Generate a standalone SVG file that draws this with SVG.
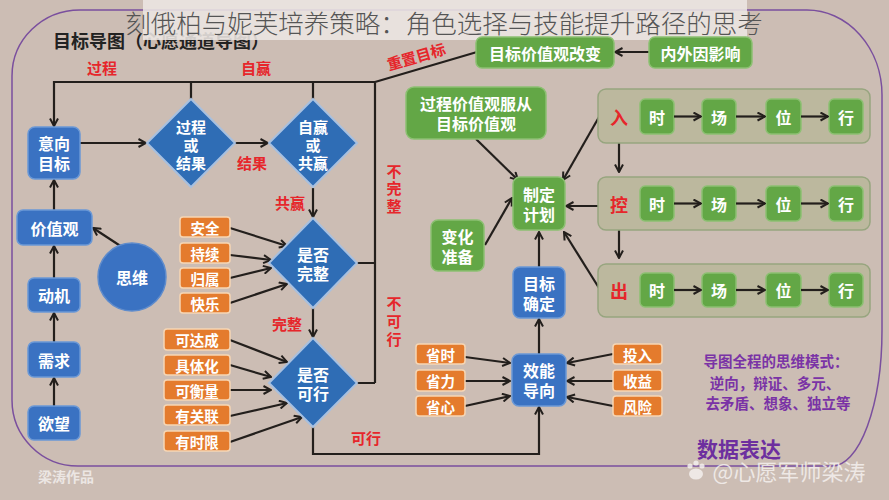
<svg xmlns="http://www.w3.org/2000/svg" width="889" height="500" viewBox="0 0 889 500">
<defs>
<marker id="ah" viewBox="0 0 10 10" refX="9" refY="5" markerWidth="10" markerHeight="10" markerUnits="userSpaceOnUse" orient="auto"><path d="M1.5,1 L9,5 L1.5,9" fill="none" stroke="#231f1c" stroke-width="2"/></marker>
</defs>
<style>
text{font-family:"Noto Sans CJK SC","Noto Sans",sans-serif;font-weight:bold;text-anchor:middle;dominant-baseline:central}
.blue{fill:#3a72c2;stroke:#6a98d6;stroke-width:1.5}
.dia{fill:#2f6db5;stroke:#a7c0e0;stroke-width:2}
.grn{fill:#63a746;stroke:#8cc072;stroke-width:1.5}
.grp{fill:#bcb89e;stroke:#97a57f;stroke-width:1.5}
.org{fill:#e47b2d;stroke:#f6d6b4;stroke-width:1.5}
.w{fill:#ffffff;font-size:16px}
.wo{fill:#ffffff;font-size:14.5px}
.red{fill:#e6262b;font-size:15px}
.pur{fill:#7a33a6;font-size:14.5px}
.ln{fill:none;stroke:#231f1c;stroke-width:2.2}
.ar{fill:none;stroke:#231f1c;stroke-width:2.2;marker-end:url(#ah)}
</style>
<rect x="0" y="0" width="889" height="500" fill="#ccbdb4"/>
<path d="M80,10 H807 A75,85 0 0 1 882,95 V330 A50,136 0 0 1 832,466 H78 A66,66 0 0 1 12,400 V76 A68,66 0 0 1 80,10 Z" fill="none" stroke="#7a4f9e" stroke-width="1.5"/>
<text x="53" y="40" style="font-size:18px;fill:#222;text-anchor:start">目标导图（心愿通道导图）</text>
<rect x="143" y="0" width="604" height="40" fill="#ece6e3" opacity="0.88"/>
<text x="444" y="21" style="font-size:25.5px;fill:#555;font-weight:300">刻俄柏与妮芙培养策略：角色选择与技能提升路径的思考</text>

<g id="connectors">
<path class="ar" d="M375,82 H54 V126"/>
<path class="ln" d="M191,82 V100 M313,82 V100 M375,82 V383 M357,263 H375 M357,383 H375 M375,82 L477,52"/>
<path class="ar" d="M80,143 H146"/>
<path class="ar" d="M234,143 H268"/>
<path class="ar" d="M313,188 V217"/>
<path class="ar" d="M313,308 V337"/>
<path class="ar" d="M313,427 V454 H539 V407"/>
<path class="ar" d="M539,354 V319"/>
<path class="ar" d="M539,267 V232"/>
<path class="ar" d="M54,406 V378"/>
<path class="ar" d="M54,342 V313"/>
<path class="ar" d="M54,278 V246"/>
<path class="ar" d="M54,210 V180"/>
<path class="ar" d="M122,247 L93,228"/>
<path class="ar" d="M230,228 L287,246"/>
<path class="ar" d="M230,255 L271,260"/>
<path class="ar" d="M230,278 L271,268"/>
<path class="ar" d="M230,303 L287,284"/>
<path class="ar" d="M230,340 L287,362"/>
<path class="ar" d="M230,365 L271,377"/>
<path class="ar" d="M230,390 L271,390"/>
<path class="ar" d="M230,416 L287,403"/>
<path class="ar" d="M230,442 L302,417"/>
<path class="ar" d="M465,357 L510,363"/>
<path class="ar" d="M465,381 L510,381"/>
<path class="ar" d="M465,406 L510,396"/>
<path class="ar" d="M613,354 L567,363"/>
<path class="ar" d="M613,381 L567,381"/>
<path class="ar" d="M613,406 L567,397"/>
<path class="ar" d="M476,139 L518,180"/>
<path class="ar" d="M485,245 L512,198"/>
<path class="ar" d="M599,117 L563,180"/>
<path class="ar" d="M599,206 L566,206"/>
<path class="ar" d="M599,288 L564,232"/>
<path class="ar" d="M649,52 H615"/>
<path class="ar" d="M619,143 V172"/>
<path class="ar" d="M619,230 V258"/>
</g>

<g id="labels">
<text class="red" x="102" y="67">过程</text>
<text class="red" x="256" y="67">自赢</text>
<text class="red" x="252" y="162">结果</text>
<text class="red" x="290" y="202">共赢</text>
<text class="red" x="287" y="323">完整</text>
<text class="red" x="366" y="437">可行</text>
<text class="red" x="416" y="56" transform="rotate(-16 416 56)">重置目标</text>
<text class="red" x="394" y="170">不</text>
<text class="red" x="394" y="187">完</text>
<text class="red" x="394" y="205">整</text>
<text class="red" x="394" y="302">不</text>
<text class="red" x="394" y="320">可</text>
<text class="red" x="394" y="338">行</text>
</g>

<g id="n-yixiang"><rect class="blue" x="28" y="127" width="52" height="52" rx="7"/><text class="w" x="54" y="143">意向</text><text class="w" x="54" y="163">目标</text></g>
<g id="n-jiazhiguan"><rect class="blue" x="17" y="210" width="75" height="35" rx="6"/><text class="w" x="54.5" y="227.5">价值观</text></g>
<g id="n-dongji"><rect class="blue" x="28" y="278" width="52" height="34" rx="6"/><text class="w" x="54" y="295">动机</text></g>
<g id="n-xuqiu"><rect class="blue" x="28" y="342" width="52" height="35" rx="6"/><text class="w" x="54" y="359.5">需求</text></g>
<g id="n-yuwang"><rect class="blue" x="28" y="406" width="52" height="34" rx="6"/><text class="w" x="54" y="423">欲望</text></g>
<g id="n-siwei"><circle cx="132" cy="277" r="34" fill="#3a72c2" stroke="#5f8ccc" stroke-width="1.5"/><text class="w" x="132" y="277">思维</text></g>

<g id="d-guocheng"><polygon class="dia" points="191,99 235,143 191,187 147,143"/><text class="w" x="191" y="126" style="font-size:15px">过程</text><text class="w" x="191" y="144" style="font-size:15px">或</text><text class="w" x="191" y="162" style="font-size:15px">结果</text></g>
<g id="d-ziying"><polygon class="dia" points="313,99 357,143 313,187 269,143"/><text class="w" x="313" y="126" style="font-size:15px">自赢</text><text class="w" x="313" y="144" style="font-size:15px">或</text><text class="w" x="313" y="162" style="font-size:15px">共赢</text></g>
<g id="d-wanzheng"><polygon class="dia" points="313,218 357,263 313,308 269,263"/><text class="w" x="313" y="254">是否</text><text class="w" x="313" y="273">完整</text></g>
<g id="d-kexing"><polygon class="dia" points="313,338 357,383 313,427 269,383"/><text class="w" x="313" y="374">是否</text><text class="w" x="313" y="393">可行</text></g>

<g id="o-anquan"><rect class="org" x="180" y="217" width="50" height="20" rx="3"/><text class="wo" x="205" y="227">安全</text></g>
<g id="o-chixu"><rect class="org" x="180" y="243" width="50" height="20" rx="3"/><text class="wo" x="205" y="253">持续</text></g>
<g id="o-guishu"><rect class="org" x="180" y="268" width="50" height="20" rx="3"/><text class="wo" x="205" y="278">归属</text></g>
<g id="o-kuaile"><rect class="org" x="180" y="293" width="50" height="20" rx="3"/><text class="wo" x="205" y="303">快乐</text></g>
<g id="o-kedacheng"><rect class="org" x="164" y="329" width="66" height="21" rx="3"/><text class="wo" x="197" y="339.5">可达成</text></g>
<g id="o-jutihua"><rect class="org" x="164" y="355" width="66" height="20" rx="3"/><text class="wo" x="197" y="365">具体化</text></g>
<g id="o-kehengliang"><rect class="org" x="164" y="380" width="66" height="20" rx="3"/><text class="wo" x="197" y="390">可衡量</text></g>
<g id="o-youguanlian"><rect class="org" x="164" y="405" width="66" height="20" rx="3"/><text class="wo" x="197" y="415">有关联</text></g>
<g id="o-youshixian"><rect class="org" x="164" y="431" width="66" height="20" rx="3"/><text class="wo" x="197" y="441">有时限</text></g>

<g id="g-gaibian"><rect class="grn" x="476" y="37" width="138" height="31" rx="6"/><text class="w" x="545" y="52.5">目标价值观改变</text></g>
<g id="g-neiwai"><rect class="grn" x="649" y="37" width="103" height="31" rx="6"/><text class="w" x="700.5" y="52.5">内外因影响</text></g>
<g id="g-fucong"><rect class="grn" x="406" y="87" width="140" height="52" rx="8"/><text class="w" x="476" y="103">过程价值观服从</text><text class="w" x="476" y="123">目标价值观</text></g>
<g id="g-jihua"><rect class="grn" x="513" y="177" width="52" height="53" rx="7"/><text class="w" x="539" y="194">制定</text><text class="w" x="539" y="214">计划</text></g>
<g id="g-zhunbei"><rect class="grn" x="431" y="220" width="53" height="51" rx="7"/><text class="w" x="457.5" y="236">变化</text><text class="w" x="457.5" y="256">准备</text></g>
<g id="n-queding"><rect class="blue" x="513" y="267" width="52" height="51" rx="7"/><text class="w" x="539" y="283">目标</text><text class="w" x="539" y="303">确定</text></g>
<g id="n-xiaoneng"><rect class="blue" x="512" y="354" width="54" height="52" rx="7"/><text class="w" x="539" y="370">效能</text><text class="w" x="539" y="390">导向</text></g>

<g id="o-shengshi"><rect class="org" x="416" y="344" width="49" height="20" rx="3"/><text class="wo" x="440.5" y="354">省时</text></g>
<g id="o-shengli"><rect class="org" x="416" y="370" width="49" height="21" rx="3"/><text class="wo" x="440.5" y="380.5">省力</text></g>
<g id="o-shengxin"><rect class="org" x="416" y="396" width="49" height="20" rx="3"/><text class="wo" x="440.5" y="406">省心</text></g>
<g id="o-touru"><rect class="org" x="613" y="344" width="49" height="20" rx="3"/><text class="wo" x="637.5" y="354">投入</text></g>
<g id="o-shouyi"><rect class="org" x="613" y="370" width="49" height="21" rx="3"/><text class="wo" x="637.5" y="380.5">收益</text></g>
<g id="o-fengxian"><rect class="org" x="613" y="396" width="49" height="20" rx="3"/><text class="wo" x="637.5" y="406">风险</text></g>

<g id="grp-ru"><rect class="grp" x="598" y="89" width="272" height="54" rx="8"/><text class="red" x="619" y="116.5" style="font-size:18px">入</text>
<rect class="grn" x="640" y="99" width="34" height="35" rx="5"/><text class="w" x="657" y="116.5">时</text>
<rect class="grn" x="702" y="99" width="34" height="35" rx="5"/><text class="w" x="719" y="116.5">场</text>
<rect class="grn" x="766" y="99" width="35" height="35" rx="5"/><text class="w" x="783.5" y="116.5">位</text>
<rect class="grn" x="829" y="99" width="34" height="35" rx="5"/><text class="w" x="846" y="116.5">行</text>
<path class="ar" d="M674,116.5 H701"/><path class="ar" d="M736,116.5 H765"/><path class="ar" d="M801,116.5 H828"/></g>
<g id="grp-kong"><rect class="grp" x="598" y="177" width="272" height="53" rx="8"/><text class="red" x="619" y="203.5" style="font-size:18px">控</text>
<rect class="grn" x="640" y="186" width="34" height="35" rx="5"/><text class="w" x="657" y="203.5">时</text>
<rect class="grn" x="702" y="186" width="34" height="35" rx="5"/><text class="w" x="719" y="203.5">场</text>
<rect class="grn" x="766" y="186" width="35" height="35" rx="5"/><text class="w" x="783.5" y="203.5">位</text>
<rect class="grn" x="829" y="186" width="34" height="35" rx="5"/><text class="w" x="846" y="203.5">行</text>
<path class="ar" d="M674,203.5 H701"/><path class="ar" d="M736,203.5 H765"/><path class="ar" d="M801,203.5 H828"/></g>
<g id="grp-chu"><rect class="grp" x="598" y="264" width="272" height="53" rx="8"/><text class="red" x="619" y="290" style="font-size:18px">出</text>
<rect class="grn" x="640" y="273" width="34" height="34" rx="5"/><text class="w" x="657" y="290">时</text>
<rect class="grn" x="702" y="273" width="34" height="34" rx="5"/><text class="w" x="719" y="290">场</text>
<rect class="grn" x="766" y="273" width="35" height="34" rx="5"/><text class="w" x="783.5" y="290">位</text>
<rect class="grn" x="829" y="273" width="34" height="34" rx="5"/><text class="w" x="846" y="290">行</text>
<path class="ar" d="M674,290 H701"/><path class="ar" d="M736,290 H765"/><path class="ar" d="M801,290 H828"/></g>

<g id="notes">
<text class="pur" x="776" y="360">导图全程的思维模式：</text>
<text class="pur" x="775" y="382">逆向，辩证、多元、</text>
<text class="pur" x="778" y="402">去矛盾、想象、独立等</text>
<text x="739" y="448" style="font-size:21px;fill:#6d2f9f">数据表达</text>
<text x="38" y="476" style="font-size:14px;fill:#f2eeec;text-anchor:start;opacity:0.85">梁涛作品</text>
<g opacity="0.85" fill="#f4f0ee"><circle cx="690" cy="466" r="2.6"/><circle cx="696" cy="463" r="2.6"/><circle cx="702" cy="466" r="2.6"/><ellipse cx="696" cy="474" rx="7" ry="5.5"/></g>
<text x="789" y="470" style="font-size:22px;fill:#f4f0ee;font-weight:normal;opacity:0.85">@心愿军师梁涛</text>
</g>
</svg>
